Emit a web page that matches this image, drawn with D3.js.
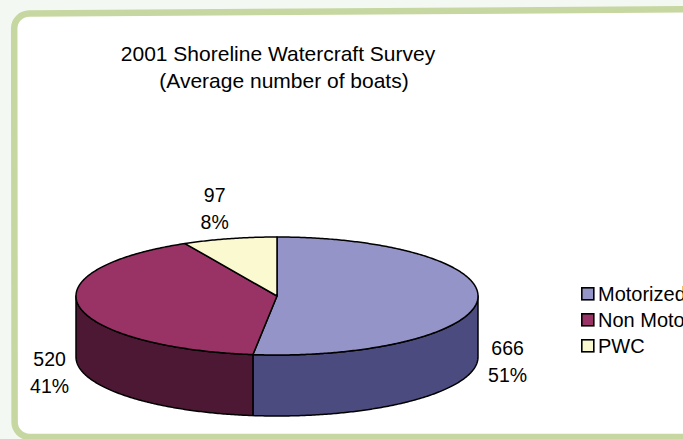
<!DOCTYPE html>
<html>
<head>
<meta charset="utf-8">
<script src="https://cdn.jsdelivr.net/npm/d3@7"></script>
<style>
  html, body { margin: 0; padding: 0; background: #f4f8f3; }
  svg { display: block; font-family: "Liberation Sans", Arial, sans-serif; }
</style>
</head>
<body>
<svg id="chart" width="683" height="439"></svg>
<script>
// Survey data
const categories = ["Motorized", "Non Motorized", "PWC"];
const values = [666, 520, 97];
const percentLabels = ["51%", "41%", "8%"];
const topColors = ["#9494c8", "#993366", "#fbf9cf"];
const sideColors = ["#4b4b80", "#4d1833", "#b8b690"];

const svg = d3.select("#chart");

// Rounded frame (slightly tilted top edge)
svg.append("path")
  .attr("d", "M 700 9.2 L 29 13.6 A 15 15 0 0 0 14.2 28.6 L 14.6 422 A 15 15 0 0 0 29.6 437 L 700 437 Z")
  .attr("fill", "#ffffff")
  .attr("stroke", "#c6d7a1")
  .attr("stroke-width", 6.5);

// Title
const title = svg.append("text")
  .attr("text-anchor", "middle")
  .attr("font-size", 21)
  .attr("fill", "#000");
title.append("tspan").attr("x", 278).attr("y", 61).text("2001 Shoreline Watercraft Survey");
title.append("tspan").attr("x", 284).attr("y", 88).text("(Average number of boats)");

// 3D pie geometry
const cx = 277, cy = 296, rx = 201, ry = 59, depth = 61;
const pie = d3.pie().sort(null).value(d => d)(values);

// angle measured clockwise from 12 o'clock
const pt = (a, dy = 0) => [cx + rx * Math.sin(a), cy - ry * Math.cos(a) + dy];
const arcPoints = (a0, a1, dy) => {
  const n = Math.max(2, Math.ceil(Math.abs(a1 - a0) / 0.01));
  return d3.range(n + 1).map(i => pt(a0 + (a1 - a0) * i / n, dy));
};
const line = d3.line();

const g = svg.append("g");

// Outer walls on the front half of the pie
pie.forEach((s, i) => {
  const a0 = Math.max(s.startAngle, Math.PI / 2);
  const a1 = Math.min(s.endAngle, 3 * Math.PI / 2);
  if (a1 <= a0) return;
  const pts = arcPoints(a0, a1, 0).concat(arcPoints(a1, a0, depth));
  g.append("path")
    .attr("d", line(pts) + "Z")
    .attr("fill", sideColors[i])
    .attr("stroke", "#000")
    .attr("stroke-width", 1.5)
    .attr("stroke-linejoin", "round");
});

// Top faces
pie.forEach((s, i) => {
  const pts = [[cx, cy]].concat(arcPoints(s.startAngle, s.endAngle, 0));
  g.append("path")
    .attr("d", line(pts) + "Z")
    .attr("fill", topColors[i])
    .attr("stroke", "#000")
    .attr("stroke-width", 1.5)
    .attr("stroke-linejoin", "round");
});

// Data labels: value and percent, placed outside each slice
pie.forEach((s, i) => {
  const mid = (s.startAngle + s.endAngle) / 2;
  const front = Math.cos(mid) < 0.2;
  const x = cx + (rx + 30) * Math.sin(mid) - (front ? 0 : 8);
  const y = cy - (ry + 30) * Math.cos(mid) + (front ? depth : 0);
  const t = svg.append("text")
    .attr("text-anchor", "middle")
    .attr("font-size", 19.5)
    .attr("fill", "#000");
  t.append("tspan").attr("x", x).attr("y", y - 7).text(values[i]);
  t.append("tspan").attr("x", x).attr("y", y + 20).text(percentLabels[i]);
});

// Legend (runs past the right edge of the page)
const legend = svg.append("g").attr("transform", "translate(581,287)");
categories.forEach((c, i) => {
  const row = legend.append("g").attr("transform", `translate(0,${i * 26})`);
  row.append("rect")
    .attr("x", 0.8).attr("y", 0.8)
    .attr("width", 12).attr("height", 12)
    .attr("fill", topColors[i])
    .attr("stroke", "#000")
    .attr("stroke-width", 1.6);
  row.append("text")
    .attr("x", 17).attr("y", 14)
    .attr("font-size", 20)
    .attr("fill", "#000")
    .text(c);
});
</script>
</body>
</html>
